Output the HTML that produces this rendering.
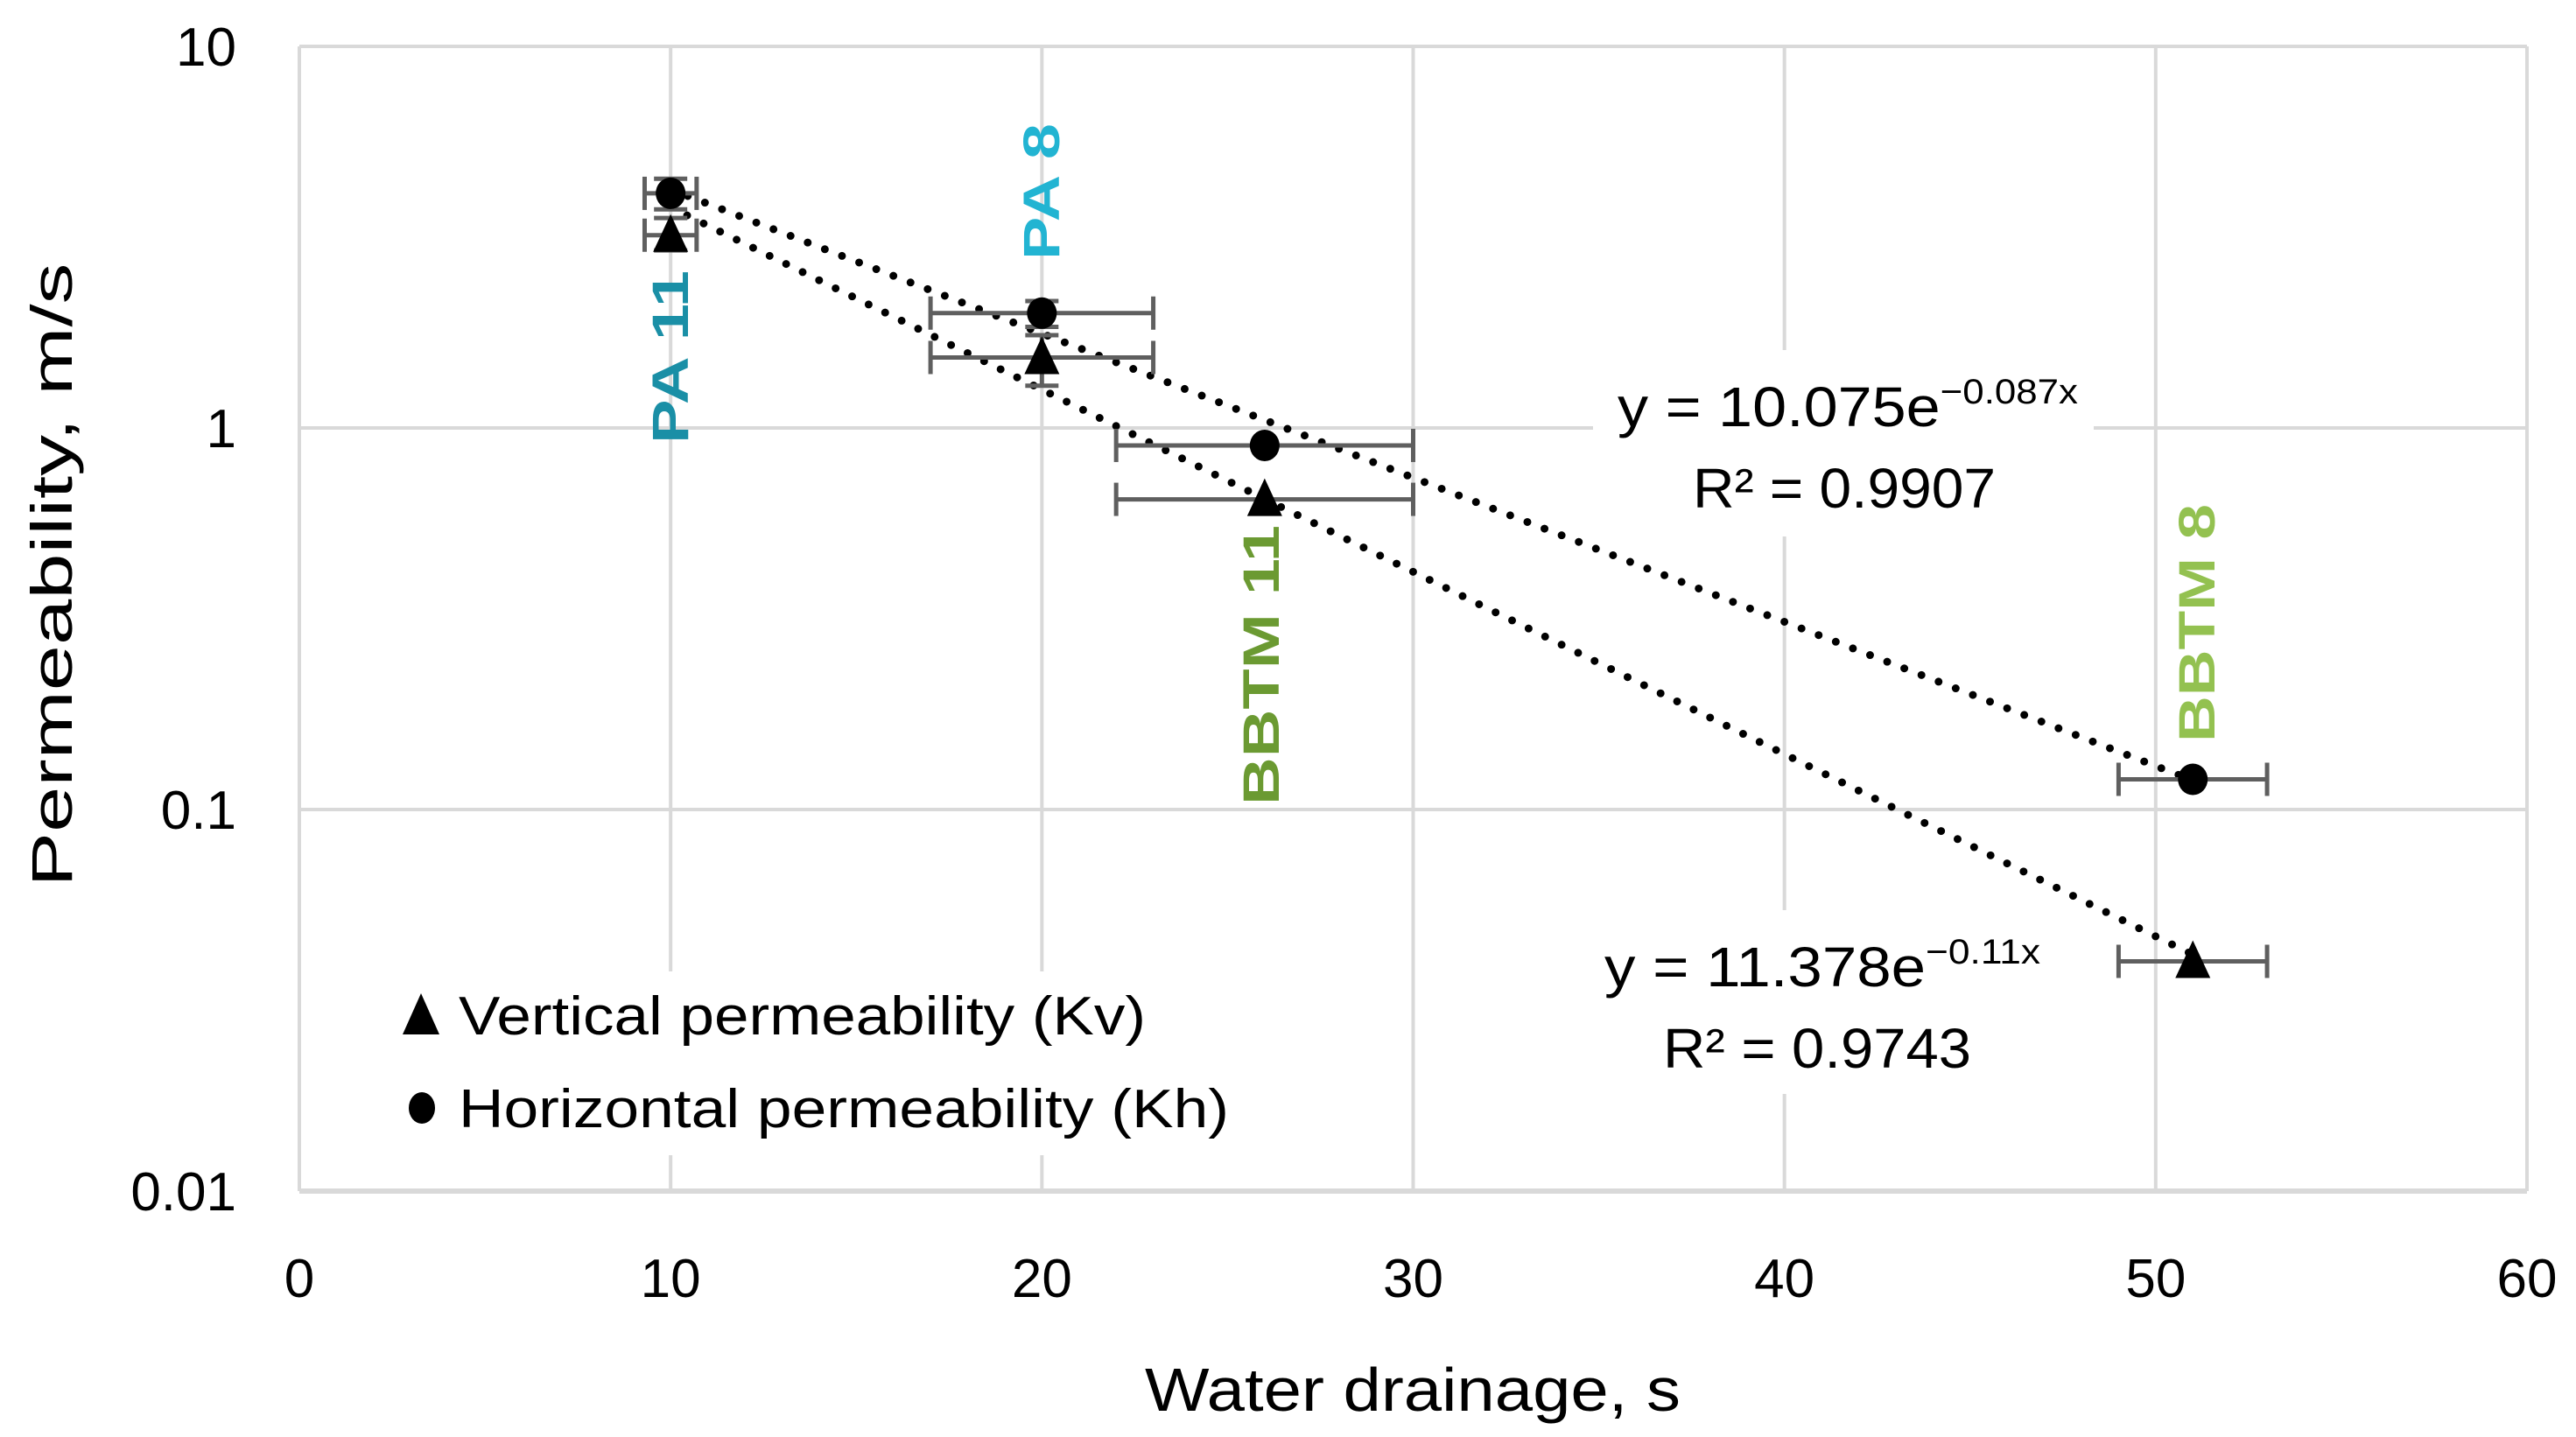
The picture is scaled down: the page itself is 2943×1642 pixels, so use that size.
<!DOCTYPE html>
<html><head><meta charset="utf-8"><style>
html,body{margin:0;padding:0;background:#fff;}
svg{display:block;font-family:"Liberation Sans",sans-serif;}
</style></head><body>
<svg id="chart" width="2943" height="1642" viewBox="0 0 2943 1642" xmlns="http://www.w3.org/2000/svg">
<rect width="2943" height="1642" fill="#fff"/>
<g id="grid"></g>
<g id="ticks"></g>
<rect x="1820" y="400" width="572" height="213" fill="#fff"/>
<rect x="1810" y="1040" width="540" height="210" fill="#fff"/>
<rect x="450" y="1110" width="980" height="210" fill="#fff"/>
<g id="trends"></g>
<g id="errors"></g>
<g id="marks"></g>
<g font-weight="bold" font-size="58">
<text transform="translate(786,408) rotate(-90)" text-anchor="middle" fill="#1a8fa6" textLength="198" lengthAdjust="spacingAndGlyphs">PA 11</text>
<text transform="translate(1210,219) rotate(-90)" text-anchor="middle" fill="#22b4d2" textLength="156" lengthAdjust="spacingAndGlyphs">PA 8</text>
<text transform="translate(1461,760) rotate(-90)" text-anchor="middle" fill="#6b9a32" textLength="320" lengthAdjust="spacingAndGlyphs">BBTM 11</text>
<text transform="translate(2530,712) rotate(-90)" text-anchor="middle" fill="#93c150" textLength="272" lengthAdjust="spacingAndGlyphs">BBTM 8</text>
</g>
<g font-size="64" fill="#000">
<text x="1848" y="487" textLength="526" lengthAdjust="spacingAndGlyphs">y = 10.075e<tspan font-size="40" dy="-26">−0.087x</tspan></text>
<text x="1934" y="580" textLength="346" lengthAdjust="spacingAndGlyphs">R² = 0.9907</text>
<text x="1833" y="1127" textLength="498" lengthAdjust="spacingAndGlyphs">y = 11.378e<tspan font-size="40" dy="-26">−0.11x</tspan></text>
<text x="1900" y="1220" textLength="352" lengthAdjust="spacingAndGlyphs">R² = 0.9743</text>
</g>
<g font-size="62">
<polygon points="481,1135 502,1182 460,1182" fill="#000"/>
<text x="524" y="1182" textLength="785" lengthAdjust="spacingAndGlyphs">Vertical permeability (Kv)</text>
<ellipse cx="482" cy="1266" rx="15" ry="18" fill="#000"/>
<text x="524" y="1288" textLength="880" lengthAdjust="spacingAndGlyphs">Horizontal permeability (Kh)</text>
</g>
<text transform="translate(82,657) rotate(-90)" text-anchor="middle" font-size="66" textLength="713" lengthAdjust="spacingAndGlyphs">Permeability, m/s</text>
<text x="1614" y="1612" text-anchor="middle" font-size="70" textLength="612" lengthAdjust="spacingAndGlyphs">Water drainage, s</text>
</svg>
<script>
const xTicks=[0,10,20,30,40,50,60];
const yTicks=[10,1,0.1,0.01];
const yTickLabels=["10","1","0.1","0.01"];
const drainage=[10,20,26,51];
const kv=[3.2,1.53,0.65,0.04];
const kh=[4.12,2.0,0.9,0.12];
const xErr=[0.7,3,4,2];
const kvLow=[2.92,1.29,0.65,0.04];
const kvHigh=[3.55,1.75,0.65,0.04];
const khLow=[3.74,1.84,0.9,0.12];
const khHigh=[4.5,2.15,0.9,0.12];
const khFit=[10.075,-0.087];
const kvFit=[11.378,-0.11];
const NS="http://www.w3.org/2000/svg";
const X0=342,X1=2887,Y0=1361,Y1=53;
const sx=v=>X0+(v-0)/60*(X1-X0);
const sy=v=>Y0-(Math.log10(v)+2)/3*(Y0-Y1);
function mk(tag,attrs,parent){const e=document.createElementNS(NS,tag);for(const k in attrs)e.setAttribute(k,attrs[k]);parent.appendChild(e);return e;}
const grid=document.getElementById('grid'),ticks=document.getElementById('ticks');
xTicks.forEach((t,i)=>{
 const l=mk('line',{x1:sx(t),x2:sx(t),y1:Y1,y2:Y0,stroke:'#d9d9d9','stroke-width':4},grid);
 
 
 const tx=mk('text',{x:sx(t),y:1482,'text-anchor':'middle','font-size':62},ticks);
 tx.textContent=String(t);
 
 
});
yTicks.forEach((t,i)=>{
 const l=mk('line',{x1:X0,x2:X1,y1:sy(t),y2:sy(t),stroke:'#d9d9d9','stroke-width':i===3?6:4},grid);
 
 
 const tx=mk('text',{x:270,y:sy(t)+22,'text-anchor':'end','font-size':62},ticks);
 tx.textContent=yTickLabels[i];
 
 
});
const trends=document.getElementById('trends');
[[khFit,'trendline-kh'],[kvFit,'trendline-kv']].forEach(([f,n])=>{
 let d='';
 for(let x=drainage[0];x<=drainage[3]+0.001;x+=0.5){d+=(d?'L':'M')+sx(x).toFixed(1)+','+sy(f[0]*Math.exp(f[1]*x)).toFixed(1);}
 const p=mk('path',{d:d,fill:'none',stroke:'#000','stroke-width':9,'stroke-linecap':'round','stroke-dasharray':'0 21'},trends);
 
 
});
const errs=document.getElementById('errors');
function ebar(x1,y1,x2,y2,horiz){
 const g=mk('g',{stroke:'#5f5f5f','stroke-width':5},errs);
 
 
 mk('line',{x1:x1,y1:y1,x2:x2,y2:y2},g);
 if(horiz){mk('line',{x1:x1,x2:x1,y1:y1-19,y2:y1+19},g);mk('line',{x1:x2,x2:x2,y1:y2-19,y2:y2+19},g);}
 else{mk('line',{x1:x1-19,x2:x1+19,y1:y1,y2:y1},g);mk('line',{x1:x2-19,x2:x2+19,y1:y2,y2:y2},g);}
}
drainage.forEach((d,i)=>{
 ebar(sx(d-xErr[i]),sy(kh[i]),sx(d+xErr[i]),sy(kh[i]),true);
 ebar(sx(d-xErr[i]),sy(kv[i]),sx(d+xErr[i]),sy(kv[i]),true);
 if(khHigh[i]!==khLow[i])ebar(sx(d),sy(khHigh[i]),sx(d),sy(khLow[i]),false);
 if(kvHigh[i]!==kvLow[i])ebar(sx(d),sy(kvHigh[i]),sx(d),sy(kvLow[i]),false);
});
const marks=document.getElementById('marks');
drainage.forEach((d,i)=>{
 const c=mk('ellipse',{cx:sx(d),cy:sy(kh[i]),rx:17,ry:18,fill:'#000'},marks);
 
 
 const x=sx(d),y=sy(kv[i]);
 const t=mk('polygon',{points:`${x},${y-24} ${x+20},${y+19} ${x-20},${y+19}`,fill:'#000'},marks);
 
 
});
</script>
</body></html>
